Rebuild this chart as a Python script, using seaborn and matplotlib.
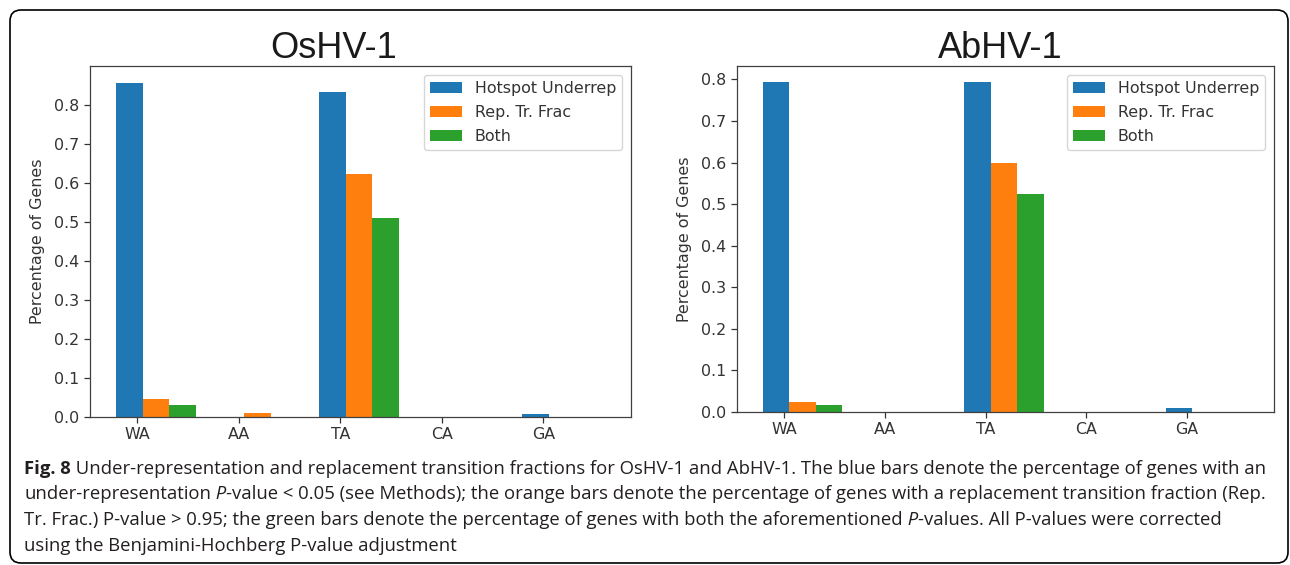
import numpy as np
import pandas as pd
import matplotlib
matplotlib.use("Agg")
import matplotlib.pyplot as plt
import seaborn as sns
from matplotlib.patches import FancyBboxPatch
from matplotlib.text import Annotation
from matplotlib.transforms import IdentityTransform

# ---- data -------------------------------------------------------------
categories = ["WA", "AA", "TA", "CA", "GA"]
series_names = ["Hotspot Underrep", "Rep. Tr. Frac", "Both"]
series_colors = ["#1f77b4", "#ff7f0e", "#2ca02c"]

oshv_hotspot = [0.856, 0.0, 0.833, 0.0, 0.008]
oshv_reptr = [0.047, 0.009, 0.622, 0.0, 0.0]
oshv_both = [0.030, 0.0, 0.510, 0.0, 0.0]

abhv_hotspot = [0.7925, 0.0, 0.7925, 0.0, 0.009]
abhv_reptr = [0.023, 0.0, 0.598, 0.0, 0.0]
abhv_both = [0.016, 0.0, 0.524, 0.0, 0.0]

y_ticks = [0.0, 0.1, 0.2, 0.3, 0.4, 0.5, 0.6, 0.7, 0.8]

# ---- style --------------------------------------------------------------
sns.set_style("ticks")
plt.rcParams["font.family"] = ["DejaVu Sans"]
plt.rcParams["axes.edgecolor"] = "0.25"
plt.rcParams["xtick.color"] = "0.2"
plt.rcParams["ytick.color"] = "0.2"
plt.rcParams["axes.linewidth"] = 0.9

W, H = 1290, 565
fig = plt.figure(figsize=(W / 100, H / 100), dpi=100)
fig.patch.set_facecolor("white")

TICK_FS = 11.4


def add_axes_px(x0, y0, x1, y1):
    return fig.add_axes([x0 / W, 1 - y1 / H, (x1 - x0) / W, (y1 - y0) / H])


def draw_panel(ax, title, hotspot, reptr, both, title_x):
    df = pd.DataFrame({
        "Site": categories * 3,
        "Series": np.repeat(series_names, len(categories)),
        "Fraction": np.concatenate([hotspot, reptr, both]),
    })
    sns.barplot(data=df, x="Site", y="Fraction", hue="Series",
                hue_order=series_names, palette=series_colors,
                saturation=1, width=0.79, errorbar=None, linewidth=0, ax=ax)
    top = max(max(hotspot), max(reptr), max(both)) * 1.05
    ax.set_ylim(0, top)
    ax.set_xlim(-0.65, 4.68)
    ax.set_xticks(np.arange(len(categories)) - 0.183, categories)
    ax.set_yticks(y_ticks, [f"{t:.1f}" for t in y_ticks])
    ax.tick_params(labelsize=TICK_FS, length=4, width=0.9)
    ax.set_xlabel("")
    ax.set_ylabel("Percentage of Genes", fontsize=TICK_FS, labelpad=7,
                  color="0.2")
    ax.set_title(title, fontsize=26, x=title_x, pad=6, color="0.1",
                 family=["Liberation Sans", "DejaVu Sans"])
    sns.move_legend(ax, "upper right", title=None, fontsize=TICK_FS,
                    frameon=True, framealpha=0.8, edgecolor="0.8",
                    fancybox=True, labelspacing=0.57, borderaxespad=0.55)
    for txt in ax.get_legend().get_texts():
        txt.set_color("0.2")


ax1 = add_axes_px(90, 66, 631, 417)
draw_panel(ax1, "OsHV-1", oshv_hotspot, oshv_reptr, oshv_both, 0.451)

ax2 = add_axes_px(737, 66, 1274, 412)
draw_panel(ax2, "AbHV-1", abhv_hotspot, abhv_reptr, abhv_both, 0.49)

# ---- caption ------------------------------------------------------------
CAP_FS = 13.3
CAP_COLOR = "#231f20"
CAP_FAMILY = ["Open Sans", "DejaVu Sans"]

caption_lines = [
    [("Fig. 8", "b"),
     (" Under-representation and replacement transition fractions for "
      "OsHV-1 and AbHV-1. The blue bars denote the percentage of genes with an", "r")],
    [("under-representation", "r"), (" P", "i"),
     ("-value < 0.05 (see Methods); the orange bars denote the percentage of "
      "genes with a replacement transition fraction (Rep.", "r")],
    [("Tr. Frac.) P-value > 0.95; the green bars denote the percentage of "
      "genes with both the aforementioned", "r"), (" P", "i"),
     ("-values. All P-values were corrected", "r")],
    [("using the Benjamini-Hochberg P-value adjustment", "r")],
]
caption_baselines = [474, 499, 525, 551]


def style_kw(style):
    kw = dict(fontsize=CAP_FS, color=CAP_COLOR, family=CAP_FAMILY)
    if style == "b":
        kw["fontweight"] = "bold"
    elif style == "i":
        kw["fontstyle"] = "italic"
    return kw


for segs, base in zip(caption_lines, caption_baselines):
    prev = None
    for text, style in segs:
        if prev is None:
            prev = fig.text(24 / W, 1 - base / H, text, ha="left",
                            va="baseline", **style_kw(style))
        else:
            ann = Annotation(text, xy=(1, 0), xycoords=prev, ha="left",
                             va="bottom", **style_kw(style))
            fig.add_artist(ann)
            prev = ann

# ---- rounded frame around the figure panel -------------------------------
frame = FancyBboxPatch((10, 2), 1278, 553,
                       boxstyle="round,pad=0,rounding_size=11",
                       transform=IdentityTransform(), facecolor="none",
                       edgecolor="black", linewidth=1.2)
fig.add_artist(frame)

fig.savefig("out.png", dpi=100)
